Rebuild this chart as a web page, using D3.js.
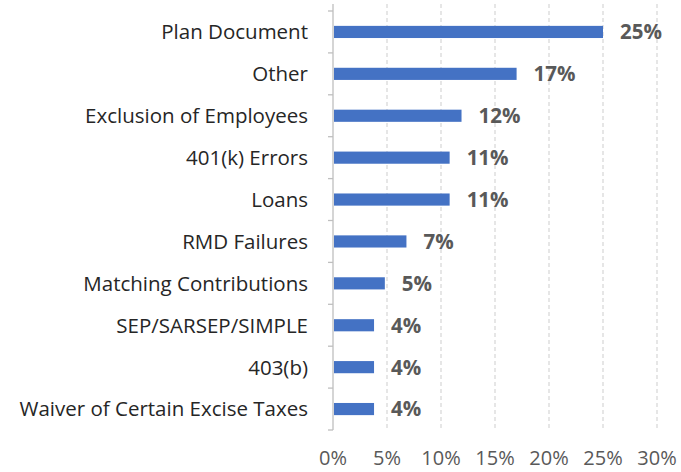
<!DOCTYPE html>
<html lang="en">
<head>
  <meta charset="UTF-8">
  <title>Chart</title>
  <style>
    body { margin: 0; background: #fff; }
  </style>
</head>
<body>
  <svg id="svg" width="681" height="472"></svg>
  <script src="https://cdn.jsdelivr.net/npm/d3@7"></script>
  <script>
    const categories = [
      'Plan Document', 'Other', 'Exclusion of Employees', '401(k) Errors', 'Loans',
      'RMD Failures', 'Matching Contributions', 'SEP/SARSEP/SIMPLE', '403(b)',
      'Waiver of Certain Excise Taxes'
    ]
    const values = [0.25, 0.17, 0.119, 0.108, 0.108, 0.068, 0.048, 0.038, 0.038, 0.038]
    const xTicks = [0, 0.05, 0.10, 0.15, 0.20, 0.25, 0.30]

    const data = categories.map((c, i) => ({ name: c, value: values[i] }))
    const font = '"Open Sans", sans-serif'

    const svg = d3.select('#svg')

    // Scales
    const x = d3.scaleLinear().domain([0, 0.30]).range([333, 657])
    const y = d3.scaleBand()
      .domain(categories)
      .range([11, 430])
      .paddingInner(0.71)
      .paddingOuter(0.355)

    const pct = d3.format('.0%')

    // dashed gridlines
    svg.append('g')
      .selectAll('line')
      .data(xTicks.slice(1))
      .join('line')
      .attr('x1', d => x(d))
      .attr('x2', d => x(d))
      .attr('y1', 4)
      .attr('y2', 430)
      .attr('stroke', '#d9d9d9')
      .attr('stroke-width', 1.3)
      .attr('stroke-dasharray', '4,3')

    // category axis (line + ticks at band edges)
    const edges = categories.map(c => y(c) - y.step() * y.paddingInner() / 2)
    edges.push(430)
    svg.append('line')
      .attr('x1', x(0)).attr('x2', x(0))
      .attr('y1', 4).attr('y2', 430)
      .attr('stroke', '#bfbfbf')
      .attr('stroke-width', 1.3)
    svg.append('g')
      .selectAll('line')
      .data(edges)
      .join('line')
      .attr('x1', x(0) - 5)
      .attr('x2', x(0))
      .attr('y1', d => d)
      .attr('y2', d => d)
      .attr('stroke', '#bfbfbf')
      .attr('stroke-width', 1.3)

    // bars
    svg.append('g')
      .selectAll('rect')
      .data(data)
      .join('rect')
      .attr('x', x(0) + 1)
      .attr('y', d => y(d.name))
      .attr('width', d => x(d.value) - x(0) - 1)
      .attr('height', y.bandwidth())
      .attr('fill', '#4472c4')

    // value labels
    svg.append('g')
      .selectAll('text')
      .data(data)
      .join('text')
      .attr('x', d => x(d.value) + 17)
      .attr('y', d => y(d.name) + y.bandwidth() / 2)
      .attr('dy', '0.36em')
      .attr('font-family', font)
      .attr('font-size', 20.5)
      .attr('font-weight', 'bold')
      .attr('fill', '#595959')
      .text(d => pct(d.value))

    // category labels
    svg.append('g')
      .selectAll('text')
      .data(data)
      .join('text')
      .attr('x', 308)
      .attr('y', d => y(d.name) + y.bandwidth() / 2)
      .attr('dy', '0.36em')
      .attr('text-anchor', 'end')
      .attr('font-family', font)
      .attr('font-size', 20.5)
      .attr('fill', '#262626')
      .text(d => d.name)

    // x tick labels
    svg.append('g')
      .selectAll('text')
      .data(xTicks)
      .join('text')
      .attr('x', d => x(d))
      .attr('y', 465)
      .attr('text-anchor', 'middle')
      .attr('font-family', font)
      .attr('font-size', 20)
      .attr('fill', '#595959')
      .text(d => pct(d))
  </script>
</body>
</html>
